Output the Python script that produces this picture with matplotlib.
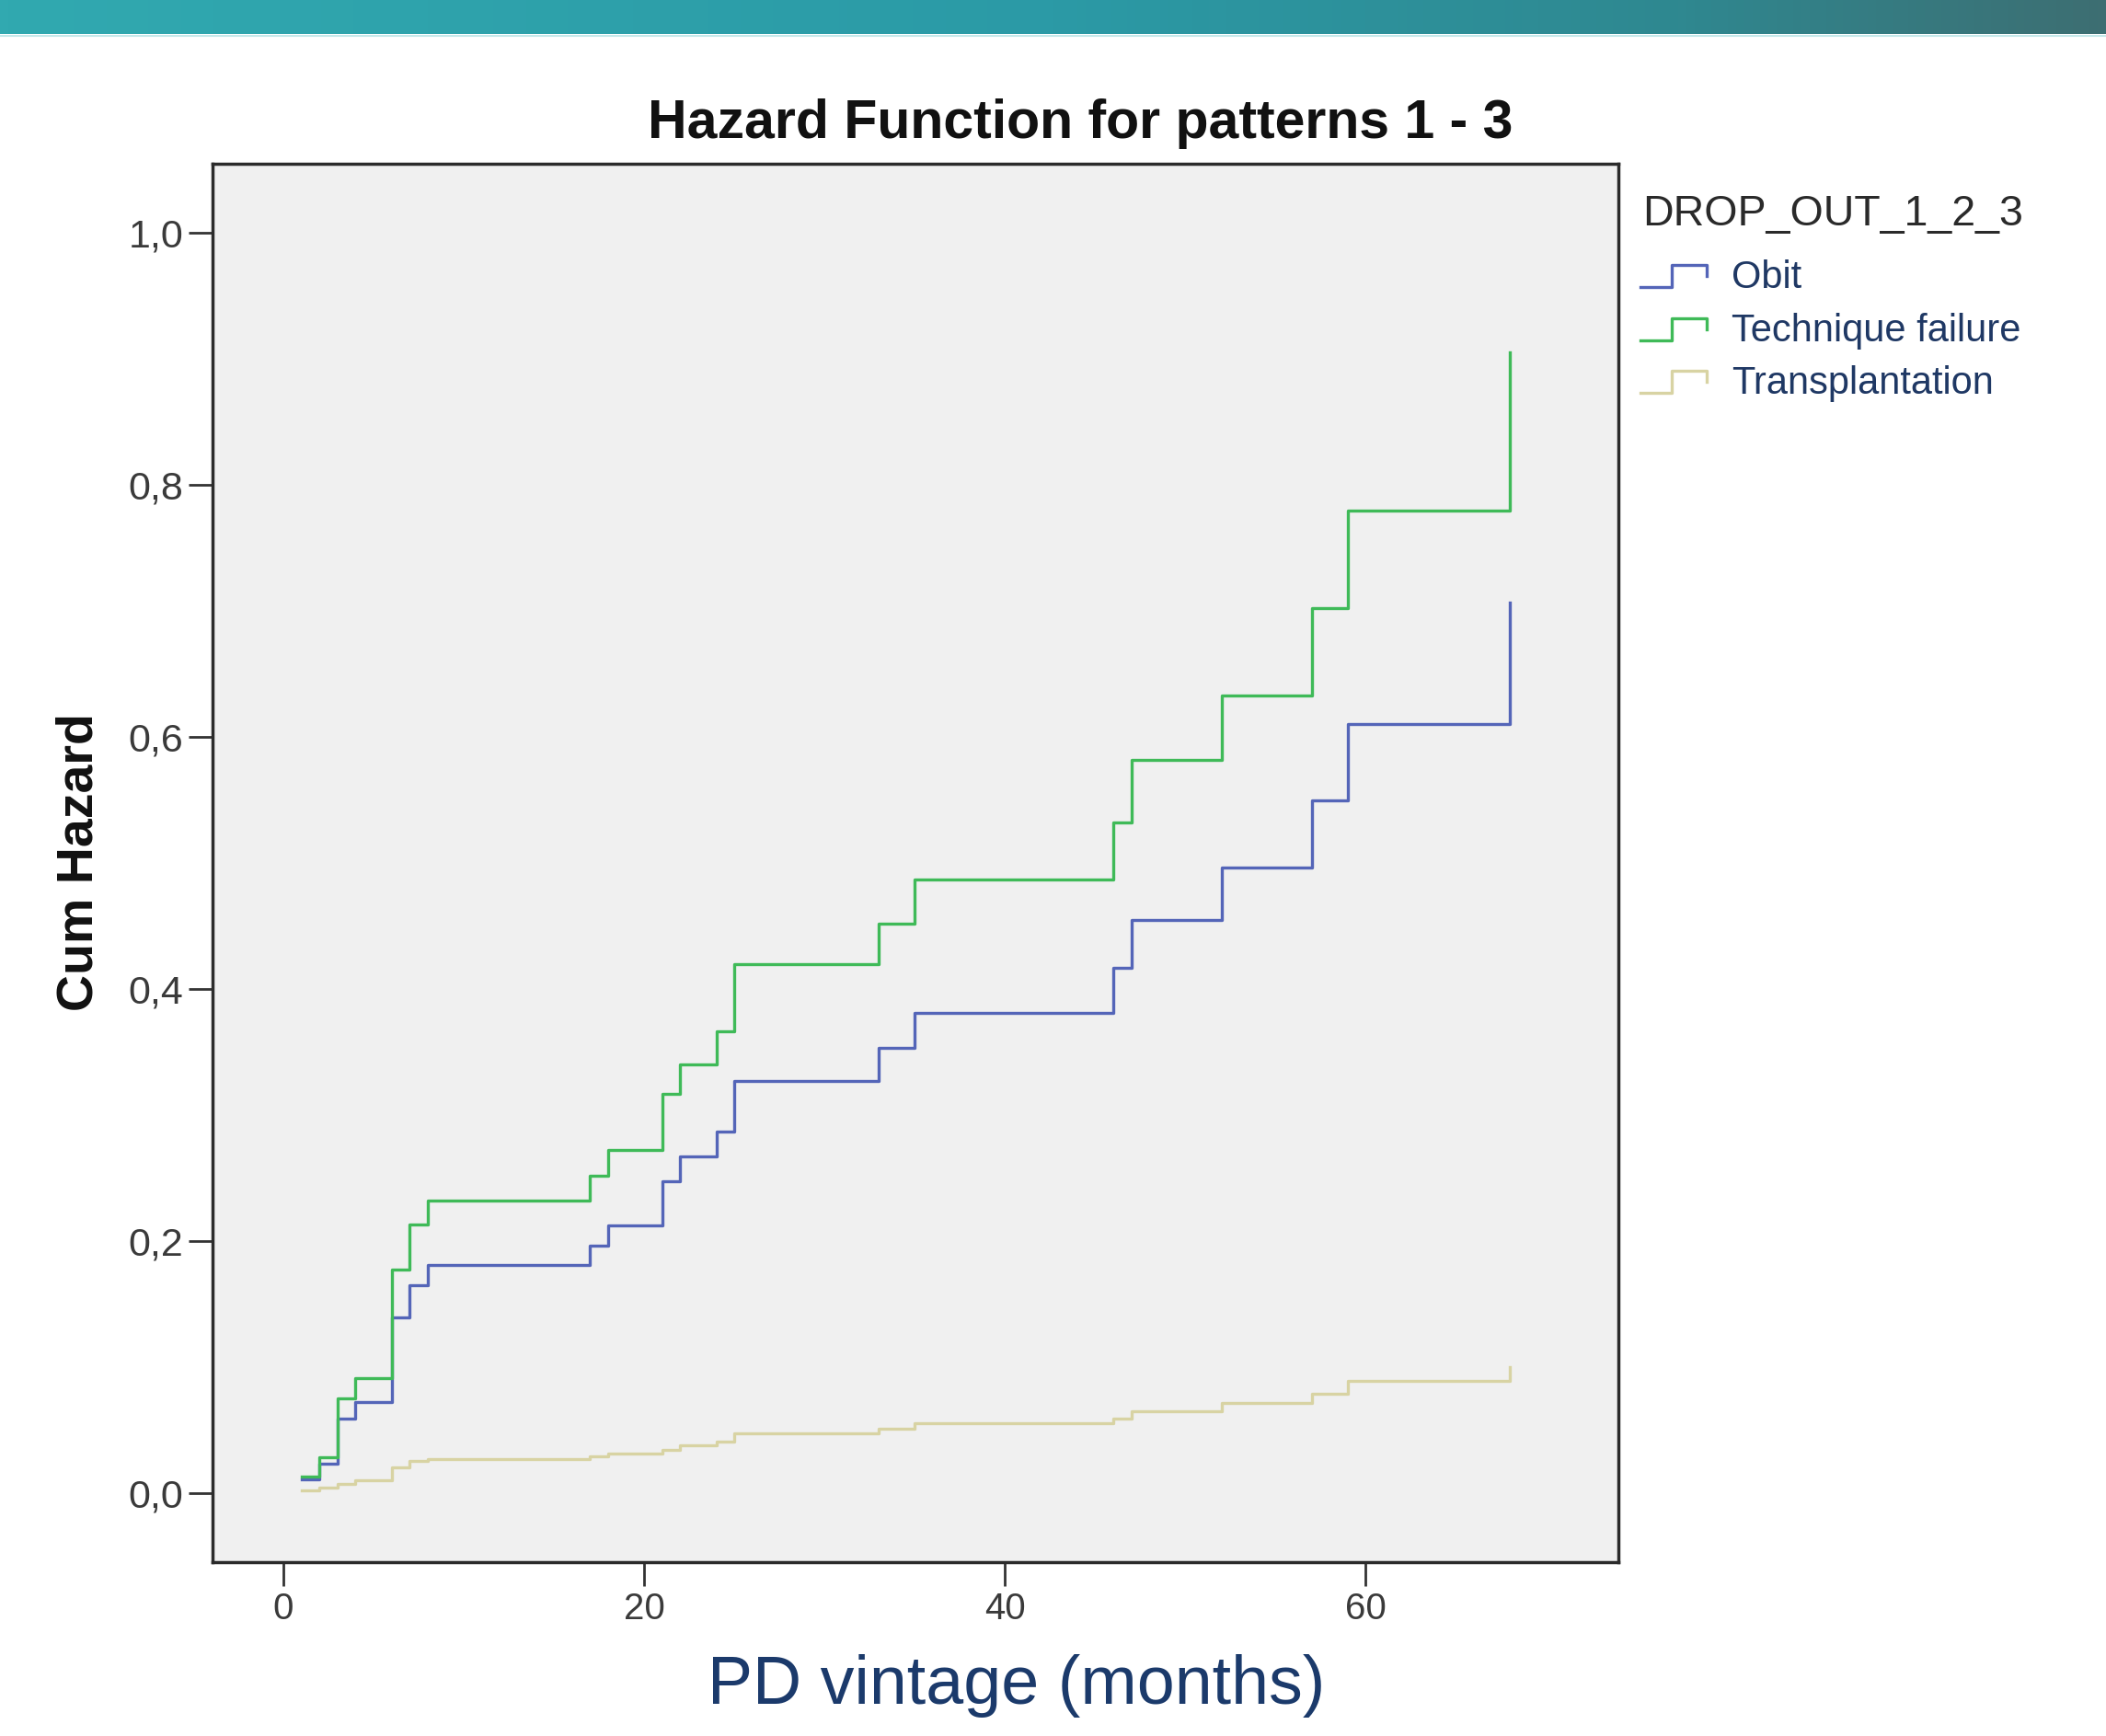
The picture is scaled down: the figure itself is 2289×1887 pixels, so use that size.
import numpy as np
import matplotlib.pyplot as plt
from matplotlib.colors import LinearSegmentedColormap

plt.rcParams['font.family'] = ['Liberation Sans', 'DejaVu Sans']

# data (months, cumulative hazard)
months = [1, 2, 3, 4, 6, 7, 8, 17, 18, 21, 22, 24, 25, 33, 35, 46, 47, 52, 57, 59, 68]
obit = [0.011, 0.023, 0.059, 0.072, 0.139, 0.165, 0.181, 0.196, 0.212, 0.247, 0.267,
        0.287, 0.327, 0.353, 0.381, 0.417, 0.455, 0.496, 0.550, 0.610, 0.707]
technique = [0.013, 0.028, 0.075, 0.091, 0.177, 0.213, 0.232, 0.252, 0.272, 0.317, 0.340,
             0.366, 0.420, 0.452, 0.487, 0.532, 0.582, 0.633, 0.702, 0.780, 0.905]
transplant = [0.002, 0.004, 0.007, 0.010, 0.020, 0.025, 0.027, 0.029, 0.031, 0.034, 0.038,
              0.041, 0.047, 0.051, 0.055, 0.059, 0.065, 0.071, 0.079, 0.089, 0.100]

labels = ['Obit', 'Technique failure', 'Transplantation']
colors = ['#5465b8', '#3fba58', '#d8d3a3']
xticks = [0, 20, 40, 60]
yticks = [0.0, 0.2, 0.4, 0.6, 0.8, 1.0]
ytick_labels = ['0,0', '0,2', '0,4', '0,6', '0,8', '1,0']

W, H = 2289, 1887
fig = plt.figure(figsize=(W / 100, H / 100), dpi=100)

# main plot
ax = fig.add_axes([231 / W, 1 - 1698 / H, (1759 - 231) / W, (1698 - 178) / H])
ax.set_facecolor('#f0f0f0')
ax.step(months, transplant, where='post', color=colors[2], lw=2.4)
ax.step(months, obit, where='post', color=colors[0], lw=2.4)
ax.step(months, technique, where='post', color=colors[1], lw=2.4)
ax.set_xlim(-3.93, 74.0)
ax.set_ylim(-0.055, 1.055)
ax.set_xticks(xticks)
ax.set_yticks(yticks)
ax.set_yticklabels(ytick_labels)
ax.tick_params(direction='out', length=19, width=2, color='#333333',
               labelsize=29, labelcolor='#3a3a3a', pad=4)
ax.tick_params(axis='y', labelsize=31)
for s in ax.spines.values():
    s.set_linewidth(2.5)
    s.set_color('#2b2b2b')

# overlay in pixel coords for banner, texts and legend
ov = fig.add_axes([0, 0, 1, 1])
ov.patch.set_alpha(0)
cmap = LinearSegmentedColormap.from_list('banner', [(0, '#31a9b0'), (0.5, '#2b9aa6'),
                                                    (0.8, '#2f8890'), (1, '#3d6e72')])
grad = np.linspace(0, 1, 512).reshape(1, -1)
ov.imshow(grad, extent=[0, W, 37, 0], cmap=cmap, aspect='auto')
ov.plot([0, W], [38.5, 38.5], color='#c4e8ea', lw=1.5)
ov.set_xlim(0, W)
ov.set_ylim(H, 0)
ov.axis('off')

ov.text(1174, 150, 'Hazard Function for patterns 1 - 3', ha='center', va='baseline',
        fontsize=42.5, fontweight='bold', color='#111111')
ov.text(87, 937, 'Cum Hazard', rotation=90, ha='center', va='center',
        fontsize=40, fontweight='bold', color='#111111')
ov.text(1105, 1852, 'PD vintage (months)', ha='center', va='baseline',
        fontsize=53, color='#1b3a6b')

# legend
ov.text(1785, 245, 'DROP_OUT_1_2_3', va='baseline', fontsize=33.5, color='#2a2a2a')
for i, (lab, c) in enumerate(zip(labels, colors)):
    base = 313 + i * 57.5
    lo, hi = base - 1, base - 25
    ov.plot([1783, 1817, 1817, 1855, 1855], [lo, lo, hi, hi, hi + 12], color=c, lw=2.4)
    ov.text(1882, base, lab, va='baseline', fontsize=30, color='#1f3864')

fig.savefig('out.png', dpi=100)
